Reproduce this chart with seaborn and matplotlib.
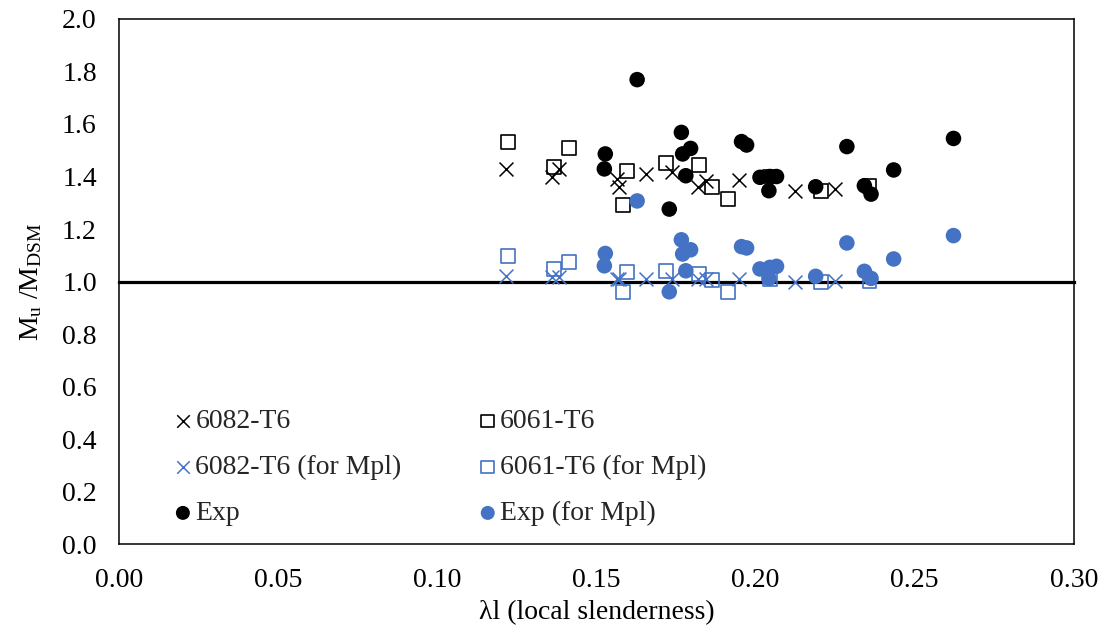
import numpy as np
import pandas as pd
import matplotlib
matplotlib.use("Agg")
import matplotlib.pyplot as plt
import seaborn as sns

# ---------------- data ----------------
x_6082 = [0.1215, 0.1359, 0.1384, 0.1565, 0.1572, 0.1656, 0.1739, 0.1820, 0.1844, 0.1948, 0.2123, 0.2251]
y_6082 = [1.429, 1.397, 1.429, 1.390, 1.359, 1.410, 1.416, 1.359, 1.384, 1.388, 1.346, 1.352]
y_6082_mpl = [1.022, 1.016, 1.018, 1.010, 1.010, 1.010, 1.010, 1.010, 1.010, 1.010, 0.999, 1.003]

x_6061 = [0.1222, 0.1368, 0.1413, 0.1583, 0.1596, 0.1719, 0.1821, 0.1862, 0.1914, 0.2045, 0.2205, 0.2358]
y_6061 = [1.533, 1.437, 1.507, 1.291, 1.422, 1.451, 1.444, 1.359, 1.314, 1.400, 1.346, 1.365]
y_6061_mpl = [1.098, 1.048, 1.073, 0.959, 1.035, 1.039, 1.029, 1.007, 0.959, 1.010, 0.997, 1.003]

x_exp = [0.1628, 0.1767, 0.1528, 0.1525, 0.1796, 0.1771, 0.1781, 0.1729, 0.1956, 0.1972,
         0.2014, 0.2045, 0.2066, 0.2042, 0.2287, 0.2622, 0.2434, 0.2189, 0.2342, 0.2363]
y_exp = [1.769, 1.568, 1.486, 1.429, 1.507, 1.486, 1.403, 1.276, 1.533, 1.520,
         1.397, 1.400, 1.400, 1.346, 1.514, 1.545, 1.425, 1.361, 1.365, 1.333]
y_exp_mpl = [1.307, 1.159, 1.107, 1.060, 1.121, 1.105, 1.041, 0.961, 1.133, 1.128,
             1.048, 1.054, 1.058, 1.012, 1.147, 1.175, 1.086, 1.020, 1.039, 1.012]

ref_x = [0.0, 0.30]
ref_y = [1.0, 1.0]

x_ticks = [0.00, 0.05, 0.10, 0.15, 0.20, 0.25, 0.30]
y_ticks = [0.0, 0.2, 0.4, 0.6, 0.8, 1.0, 1.2, 1.4, 1.6, 1.8, 2.0]

labels = ["6082-T6", "6061-T6", "6082-T6 (for Mpl)", "6061-T6 (for Mpl)", "Exp", "Exp (for Mpl)"]
x_label = "λl (local slenderness)"
y_label = r"M$_\mathrm{u}$ /M$_\mathrm{DSM}$"

# ---------------- style ----------------
sns.set_theme(style="white")
plt.rcParams['font.family'] = ['Liberation Serif', 'DejaVu Serif']
plt.rcParams['mathtext.fontset'] = 'custom'
plt.rcParams['mathtext.rm'] = 'Liberation Serif'
plt.rcParams['mathtext.it'] = 'Liberation Serif:italic'
plt.rcParams['mathtext.bf'] = 'Liberation Serif:bold'

BLUE = "#4472C4"
FS = 20

fig = plt.figure(figsize=(11.07, 6.32), dpi=100)
ax = fig.add_axes([0.1075, 0.139, 0.8625, 0.831])

# reference line
sns.lineplot(x=ref_x, y=ref_y, ax=ax, color="black", linewidth=2.3, zorder=1,
             label="_nolegend_", solid_capstyle="projecting", clip_on=False)

sq_size = 100
x_size = 100
c_size = 125

sns.scatterplot(x=x_6061, y=y_6061, ax=ax, marker="s", s=sq_size, facecolor="none",
                edgecolor="black", linewidth=1.2, label=labels[1], zorder=3)
sns.scatterplot(x=x_6082, y=y_6082, ax=ax, marker="x", s=x_size, color="black",
                linewidth=1.1, label=labels[0], zorder=3)
sns.scatterplot(x=x_6061, y=y_6061_mpl, ax=ax, marker="s", s=sq_size, facecolor="none",
                edgecolor=BLUE, linewidth=1.2, label=labels[3], zorder=3)
sns.scatterplot(x=x_6082, y=y_6082_mpl, ax=ax, marker="x", s=x_size, color=BLUE,
                linewidth=1.1, label=labels[2], zorder=3)
sns.scatterplot(x=x_exp, y=y_exp, ax=ax, marker="o", s=c_size, color="black",
                edgecolor="none", label=labels[4], zorder=4)
sns.scatterplot(x=x_exp, y=y_exp_mpl, ax=ax, marker="o", s=c_size, color=BLUE,
                edgecolor="none", label=labels[5], zorder=4)

ax.set_xlim(0, 0.30)
ax.set_ylim(0, 2.0)
ax.set_xticks(x_ticks)
ax.set_yticks(y_ticks)
ax.set_xticklabels([f"{v:.2f}" for v in x_ticks], fontsize=FS)
ax.set_yticklabels([f"{v:.1f}" for v in y_ticks], fontsize=FS)
ax.tick_params(axis="both", length=0, colors="black")
ax.tick_params(axis="x", pad=17)
ax.tick_params(axis="y", pad=16)
ax.grid(False)
for sp in ax.spines.values():
    sp.set_visible(True)
    sp.set_color("black")
    sp.set_linewidth(1.1)

ax.set_xlabel(x_label, fontsize=FS, color="black", labelpad=5)
ax.set_ylabel(y_label, fontsize=FS, color="black", labelpad=13)

handles, labs = ax.get_legend_handles_labels()
hmap = dict(zip(labs, handles))
order = [labels[0], labels[2], labels[4], labels[1], labels[3], labels[5]]
leg = ax.legend([hmap[l] for l in order], order, ncol=2, loc="center left",
                bbox_to_anchor=(0.048, 0.146), borderaxespad=0, frameon=False,
                fontsize=FS, handlelength=0.5, handletextpad=0.2,
                columnspacing=2.85, labelspacing=0.74, markerscale=0.9)

fig.savefig("out.png", dpi=100)
